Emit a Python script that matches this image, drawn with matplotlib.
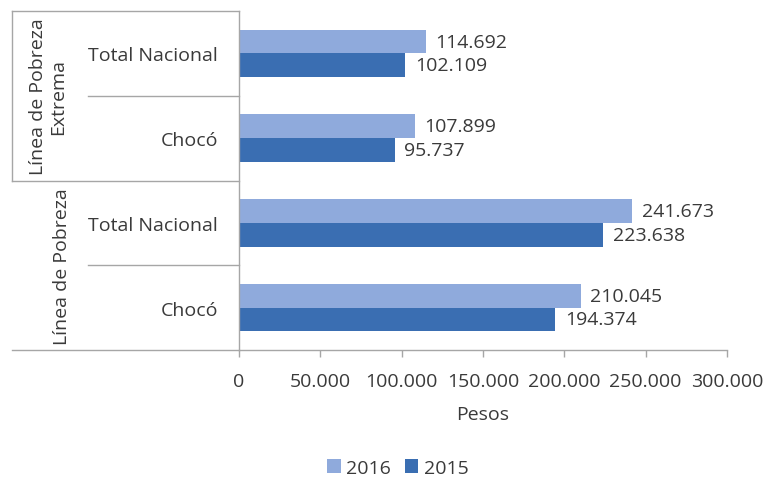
import matplotlib.pyplot as plt
from matplotlib.ticker import FuncFormatter

plt.rcParams['font.family'] = ['Open Sans', 'DejaVu Sans']

# datos
categorias = ['Total Nacional', 'Chocó', 'Total Nacional', 'Chocó']
grupos = ['Línea de Pobreza\nExtrema', 'Línea de Pobreza']
valores_2016 = [114692, 107899, 241673, 210045]
valores_2015 = [102109, 95737, 223638, 194374]
color_2016 = '#8FAADC'
color_2015 = '#3A6EB2'
gris = '#A6A6A6'
texto = '#3A3A3A'
fs = 14

fig = plt.figure(figsize=(7.64, 4.81), dpi=100)
ax = fig.add_axes([239 / 764, 1 - 351 / 481, 488 / 764, 339 / 481])

y = list(range(len(categorias)))
h = 0.28
ax.barh([v - h / 2 for v in y], valores_2016, height=h, color=color_2016, label='2016')
ax.barh([v + h / 2 for v in y], valores_2015, height=h, color=color_2015, label='2015')

fmt = lambda v: f'{v:,.0f}'.replace(',', '.')
for i in y:
    ax.annotate(fmt(valores_2016[i]), (valores_2016[i], i - h / 2), xytext=(7, 0),
                textcoords='offset points', va='center', ha='left', fontsize=fs, color=texto)
    ax.annotate(fmt(valores_2015[i]), (valores_2015[i], i + h / 2), xytext=(7, 0),
                textcoords='offset points', va='center', ha='left', fontsize=fs, color=texto)

ax.set_ylim(3.5, -0.5)
ax.set_xlim(0, 300000)
ax.set_xticks(range(0, 300001, 50000))
ax.xaxis.set_major_formatter(FuncFormatter(lambda v, p: fmt(v)))
ax.set_yticks(y)
ax.set_yticklabels(categorias)
ax.tick_params(axis='y', length=0, pad=15, labelsize=fs, labelcolor=texto)
ax.tick_params(axis='x', length=5, width=1, color=gris, labelsize=fs, labelcolor=texto, pad=11)
ax.set_xlabel('Pesos', fontsize=fs, color=texto, labelpad=11)

for s in ['top', 'right']:
    ax.spines[s].set_visible(False)
for s in ['left', 'bottom']:
    ax.spines[s].set_color(gris)
    ax.spines[s].set_linewidth(1)

# lineas de la tabla de categorias
tr = ax.get_yaxis_transform()
x_ext = (12 - 239) / 488
x_int = (88 - 239) / 488
lw = dict(color=gris, lw=1, transform=tr, clip_on=False)
for yb in [-0.5, 1.5, 3.5]:
    ax.plot([x_ext, 0], [yb, yb], **lw)
for yb in [0.5, 2.5]:
    ax.plot([x_int, 0], [yb, yb], **lw)
ax.plot([x_ext, x_ext], [-0.5, 1.5], **lw)

ax.text((48 - 239) / 488, 0.5, grupos[0], transform=tr, rotation=90, ha='center', va='center',
        fontsize=fs, color=texto, linespacing=1.1)
ax.text((62 - 239) / 488, 2.5, grupos[1], transform=tr, rotation=90, ha='center', va='center',
        fontsize=fs, color=texto)

fig.legend(loc='center', bbox_to_anchor=(398 / 764, 1 - 469 / 481), ncol=2, frameon=False,
           fontsize=fs, handlelength=0.7, handleheight=0.7, handletextpad=0.3, columnspacing=0.7,
           labelcolor=texto)

fig.savefig('out.png', dpi=100)
